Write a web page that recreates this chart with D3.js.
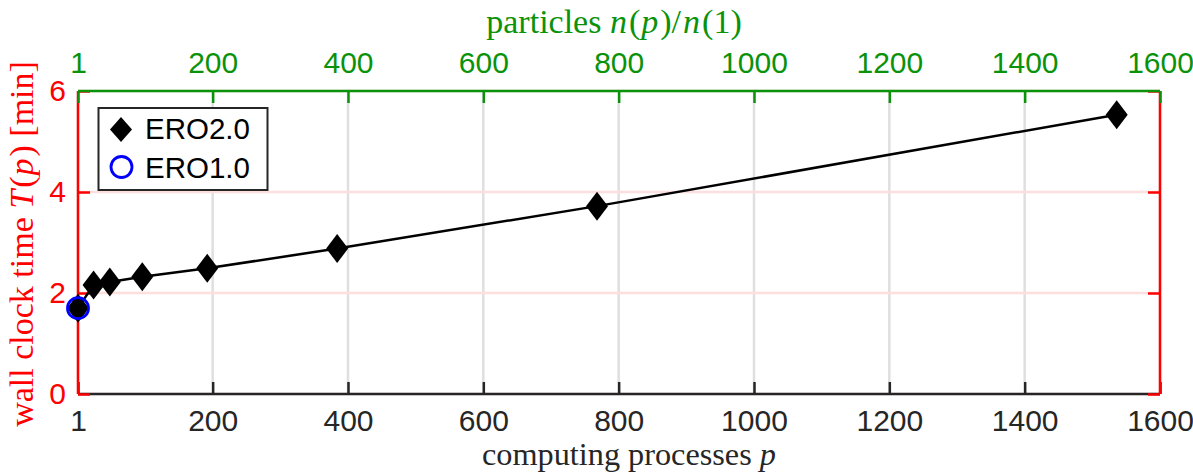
<!DOCTYPE html>
<html><head><meta charset="utf-8">
<script src="https://cdn.jsdelivr.net/npm/d3@7"></script>
<style>
html,body{margin:0;padding:0;background:#fff;}
svg{display:block;}
</style></head>
<body>
<svg id="chart" width="1193" height="474"></svg>
<script>
// ---- data ----
const processes = [1, 24, 48, 96, 192, 384, 768, 1536];
const timeERO2 = [1.70, 2.16, 2.22, 2.32, 2.49, 2.88, 3.72, 5.53];
const processesERO1 = [1];
const timeERO1 = [1.70];
const xTicks = [1, 200, 400, 600, 800, 1000, 1200, 1400, 1600];
const yTicks = [0, 2, 4, 6];
const seriesNames = ["ERO2.0", "ERO1.0"];

// ---- layout ----
const W = 1193, H = 474;
const m = {left: 78, right: 33, top: 91, bottom: 80};
const svg = d3.select("#chart");
const x = d3.scaleLinear().domain([1, 1600]).range([m.left, W - m.right]);
const y = d3.scaleLinear().domain([0, 6]).range([H - m.bottom, m.top]);

const GREEN = "#0a920a", RED = "#ff0000", DARK = "#262626";
const tickFont = "'Liberation Sans', Arial, Helvetica, sans-serif";
const serif = "'Liberation Serif', 'Times New Roman', serif";
const TFS = 30;

// grid
svg.append("g").selectAll("line").data(xTicks).join("line")
  .attr("x1", d => x(d)).attr("x2", d => x(d))
  .attr("y1", y(0)).attr("y2", y(6))
  .attr("stroke", "#dfdfdf").attr("stroke-width", 2.5);
svg.append("g").selectAll("line").data(yTicks).join("line")
  .attr("x1", x(1)).attr("x2", x(1600))
  .attr("y1", d => y(d)).attr("y2", d => y(d))
  .attr("stroke", "#ffdede").attr("stroke-width", 2.5);

function styleAxis(g, color, size) {
  g.select(".domain").remove();
  g.selectAll(".tick line").attr("stroke", color).attr("stroke-width", 2.5);
  g.selectAll(".tick text").attr("fill", color)
    .style("font-family", tickFont).style("font-size", size + "px");
}

// bottom axis
const gB = svg.append("g").attr("transform", `translate(0,${y(0)})`)
  .call(d3.axisBottom(x).tickValues(xTicks).tickFormat(d3.format("d")).tickSizeInner(-12).tickSizeOuter(0).tickPadding(16));
styleAxis(gB, DARK, TFS);
gB.append("line").attr("x1", x(1)).attr("x2", x(1600)).attr("stroke", DARK).attr("stroke-width", 2.5);

// left & right axes
const gL = svg.append("g").attr("transform", `translate(${x(1)},0)`)
  .call(d3.axisLeft(y).tickValues(yTicks).tickFormat(d3.format("d")).tickSizeInner(-12).tickSizeOuter(0).tickPadding(12));
styleAxis(gL, RED, TFS);
gL.append("line").attr("y1", y(0)).attr("y2", y(6)).attr("stroke", RED).attr("stroke-width", 2.5);
const gR = svg.append("g").attr("transform", `translate(${x(1600)},0)`)
  .call(d3.axisRight(y).tickValues(yTicks).tickFormat("").tickSizeInner(-12).tickSizeOuter(0));
styleAxis(gR, RED, TFS);
gR.append("line").attr("y1", y(0)).attr("y2", y(6)).attr("stroke", RED).attr("stroke-width", 2.5);

// top axis
const gT = svg.append("g").attr("transform", `translate(0,${y(6)})`)
  .call(d3.axisTop(x).tickValues(xTicks).tickFormat(d3.format("d")).tickSizeInner(-12).tickSizeOuter(0).tickPadding(18));
styleAxis(gT, GREEN, TFS);
gT.append("line").attr("x1", x(1)).attr("x2", x(1600)).attr("stroke", GREEN).attr("stroke-width", 2.5);

// data line
const pts = processes.map((p, i) => [p, timeERO2[i]]);
svg.append("path").datum(pts)
  .attr("d", d3.line().x(d => x(d[0])).y(d => y(d[1])))
  .attr("fill", "none").attr("stroke", "#000").attr("stroke-width", 2.5);

const DW = 11, DH = 14.5;
const diamond = `M0,${-DH}L${DW},0L0,${DH}L${-DW},0Z`;
svg.append("g").selectAll("path").data(pts).join("path")
  .attr("d", diamond)
  .attr("transform", d => `translate(${x(d[0])},${y(d[1])})`)
  .attr("fill", "#000");

svg.append("g").selectAll("circle").data(processesERO1.map((p, i) => [p, timeERO1[i]])).join("circle")
  .attr("cx", d => x(d[0])).attr("cy", d => y(d[1])).attr("r", 10.5)
  .attr("fill", "none").attr("stroke", "#0000ff").attr("stroke-width", 2.8);

// legend
const lg = svg.append("g");
lg.append("rect").attr("x", 98.5).attr("y", 108).attr("width", 169).attr("height", 82)
  .attr("fill", "#fff").attr("stroke", DARK).attr("stroke-width", 2);
lg.append("path").attr("d", `M0,-12.5L11,0L0,12.5L-11,0Z`).attr("transform", "translate(121,129.5)").attr("fill", "#000");
lg.append("circle").attr("cx", 121.5).attr("cy", 167).attr("r", 10.5)
  .attr("fill", "none").attr("stroke", "#0000ff").attr("stroke-width", 2.8);
lg.selectAll("text").data(seriesNames).join("text")
  .attr("x", 145).attr("y", (d, i) => 139 + i * 39)
  .style("font-family", tickFont).style("font-size", "29.5px").attr("fill", "#000")
  .text(d => d);

// axis titles
function fit(sel, target) {
  const len = sel.node().getComputedTextLength();
  const fs = Math.max(28, Math.min(34, 30 * target / len));
  sel.style("font-size", fs + "px");
}
const bt = svg.append("text").attr("x", 629).attr("y", 465).attr("text-anchor", "middle")
  .style("font-family", serif).style("font-size", "30px").attr("fill", DARK);
bt.append("tspan").text("computing processes ");
bt.append("tspan").style("font-style", "italic").text("p");
fit(bt, 294);

const tt = svg.append("text").attr("x", 614).attr("y", 33).attr("text-anchor", "middle")
  .style("font-family", serif).style("font-size", "30px").attr("fill", GREEN);
tt.append("tspan").text("particles ");
tt.append("tspan").style("font-style", "italic").text("n");
tt.append("tspan").attr("dx", 2).text("(");
tt.append("tspan").style("font-style", "italic").attr("dx", 1).text("p");
tt.append("tspan").attr("dx", 2).text(")/");
tt.append("tspan").style("font-style", "italic").attr("dx", 2).text("n");
tt.append("tspan").attr("dx", 2).text("(1)");
fit(tt, 262);

const yt = svg.append("text").attr("transform", "translate(33,244) rotate(-90)").attr("text-anchor", "middle")
  .style("font-family", serif).style("font-size", "30px").attr("fill", RED);
yt.append("tspan").text("wall clock time ");
yt.append("tspan").style("font-style", "italic").text("T");
yt.append("tspan").attr("dx", 2).text("(");
yt.append("tspan").style("font-style", "italic").attr("dx", 1).text("p");
yt.append("tspan").attr("dx", 2).text(") [min]");
fit(yt, 372);
</script>
</body></html>
